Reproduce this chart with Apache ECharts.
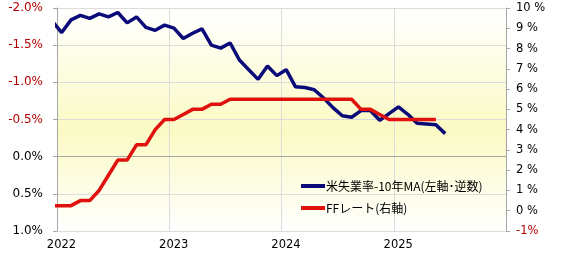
<!DOCTYPE html>
<html>
<head>
<meta charset="utf-8">
<script src="https://cdn.jsdelivr.net/npm/echarts@6/dist/echarts.min.js"></script>
<style>html,body{margin:0;padding:0;background:#fff}#c{width:568px;height:261px}</style>
</head>
<body>
<div id="c"></div>
<script>
// Months (data dated mid-month)
const months = [
 '2021-12',
 '2022-01','2022-02','2022-03','2022-04','2022-05','2022-06','2022-07','2022-08','2022-09','2022-10','2022-11','2022-12',
 '2023-01','2023-02','2023-03','2023-04','2023-05','2023-06','2023-07','2023-08','2023-09','2023-10','2023-11','2023-12',
 '2024-01','2024-02','2024-03','2024-04','2024-05','2024-06','2024-07','2024-08','2024-09','2024-10','2024-11','2024-12',
 '2025-01','2025-02','2025-03','2025-04','2025-05','2025-06'
];
// US unemployment rate minus its 10-year MA (left axis, inverted)
const unempGap = [
 -1.82,
 -1.67,-1.84,-1.90,-1.86,-1.92,-1.88,-1.94,-1.80,-1.88,-1.74,-1.70,-1.77,
 -1.73,-1.59,-1.66,-1.72,-1.50,-1.46,-1.53,-1.30,-1.17,-1.04,-1.22,-1.09,
 -1.17,-0.94,-0.93,-0.90,-0.79,-0.66,-0.55,-0.53,-0.62,-0.62,-0.49,-0.58,
 -0.67,-0.57,-0.45,-0.44,-0.43,-0.31
];
// FF rate (right axis)
const ffRate = [
 0.25,
 0.25,0.25,0.5,0.5,1.0,1.75,2.5,2.5,3.25,3.25,4.0,4.5,
 4.5,4.75,5.0,5.0,5.25,5.25,5.5,5.5,5.5,5.5,5.5,5.5,
 5.5,5.5,5.5,5.5,5.5,5.5,5.5,5.5,5.0,5.0,4.75,4.5,
 4.5,4.5,4.5,4.5,4.5
];
const yearTicks = [2022, 2023, 2024, 2025];
const seriesNames = ['米失業率-10年MA(左軸･逆数)', 'FFレート(右軸)'];

function monthPos(m) {
  const [y, mo] = m.split('-').map(Number);
  return y + (mo - 0.5) / 12;
}
const blueData = unempGap.map((v, i) => [monthPos(months[i]), v]);
const redData = ffRate.map((v, i) => [monthPos(months[i]), v]);

const chart = echarts.init(document.getElementById('c'));
const axisGrey = '#a6a6a6';
const gridGrey = '#dcdcdc';
const negRed = '#b40000';
chart.setOption({
  animation: false,
  textStyle: { fontFamily: 'DejaVu Sans' },
  grid: {
    left: 57, right: 62, top: 8, bottom: 30,
    show: true, borderWidth: 0,
    backgroundColor: new echarts.graphic.LinearGradient(0, 0, 0, 1, [
      { offset: 0, color: '#ffffff' },
      { offset: 0.55, color: '#fbfac4' },
      { offset: 1, color: '#ffffff' }
    ])
  },
  legend: {
    orient: 'vertical', left: 301, top: 179, padding: 0,
    itemWidth: 24, itemHeight: 4, itemGap: 8,
    icon: 'rect',
    data: seriesNames,
    textStyle: { fontFamily: 'Noto Sans CJK JP', fontSize: 12, color: '#000', lineHeight: 14, padding: [0, 0, 0, -4] }
  },
  xAxis: {
    type: 'value', min: 2022, max: 2026, interval: 1,
    axisLine: { show: true, lineStyle: { color: axisGrey } },
    axisTick: { show: false },
    splitLine: { show: true, lineStyle: { color: gridGrey } },
    axisLabel: {
      showMaxLabel: false, margin: 8, fontSize: 11.5, color: '#000',
      padding: [0, 0, 0, 9],
      formatter: v => yearTicks.includes(v) ? String(v) : ''
    }
  },
  yAxis: [
    {
      type: 'value', inverse: true, min: -2, max: 1, interval: 0.5,
      axisLine: { show: true, lineStyle: { color: axisGrey } },
      axisTick: { show: true, length: 4, lineStyle: { color: axisGrey } },
      splitLine: { show: true, lineStyle: { color: gridGrey } },
      axisLabel: {
        margin: 14, fontSize: 12,
        formatter: v => v.toFixed(1) + '%',
        color: v => (v < 0 ? negRed : '#000')
      }
    },
    {
      type: 'value', min: -1, max: 10, interval: 1, position: 'right',
      axisLine: { show: true, lineStyle: { color: axisGrey } },
      axisTick: { show: true, length: 4, lineStyle: { color: axisGrey } },
      splitLine: { show: false },
      axisLabel: {
        margin: 10, fontSize: 11.5,
        formatter: v => (v < 0 ? v + '%' : v + ' %'),
        color: v => (v < 0 ? negRed : '#000')
      }
    }
  ],
  series: [
    {
      name: seriesNames[0], type: 'line', yAxisIndex: 0, data: blueData,
      symbol: 'none', color: '#0a0a78',
      lineStyle: { width: 3.5, color: '#0a0a78' }
    },
    {
      name: seriesNames[1], type: 'line', yAxisIndex: 1, data: redData,
      symbol: 'none', color: '#e0100c',
      lineStyle: { width: 3.5, color: '#e0100c' }
    }
  ]
});
</script>
</body>
</html>
